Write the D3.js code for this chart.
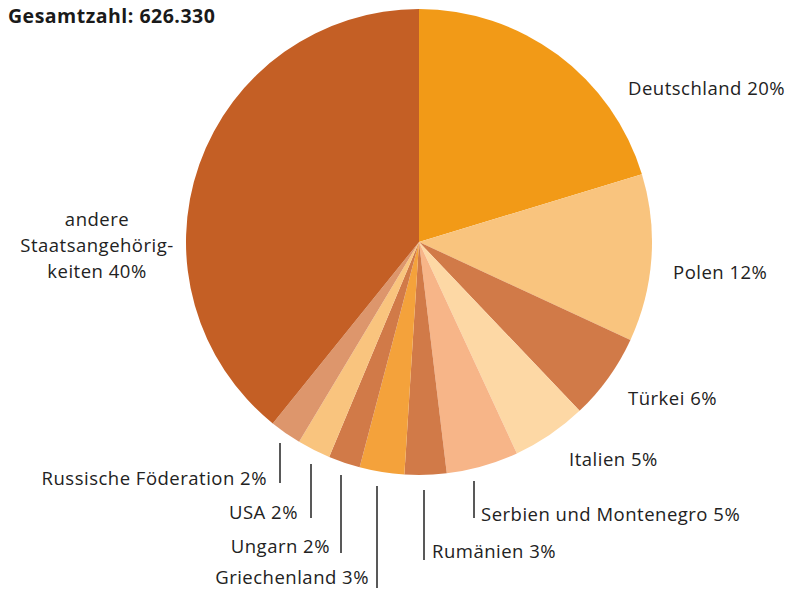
<!DOCTYPE html>
<html lang="de">
<head>
  <meta charset="UTF-8" />
  <title>Gesamtzahl: 626.330</title>
  <style>
    body { margin: 0; background: #ffffff; }
    svg { display: block; }
    .label { font-family: "Open Sans", "Noto Sans", sans-serif; font-size: 18.5px; letter-spacing: 0.5px; fill: #222222; }
    .title { font-family: "Open Sans", "Noto Sans", sans-serif; font-size: 19.5px; letter-spacing: 0.5px; font-weight: bold; fill: #1a1a1a; }
    .leader { stroke: #222222; stroke-width: 1.5px; }
  </style>
  <script src="https://d3js.org/d3.v7.min.js"></script>
</head>
<body>
  <svg id="canvas" width="790" height="593"></svg>
  <script>
    const categories = ["Deutschland", "Polen", "Türkei", "Italien", "Serbien und Montenegro",
      "Rumänien", "Griechenland", "Ungarn", "USA", "Russische Föderation", "andere Staatsangehörigkeiten"];
    // slice sizes in percent
    const shares = [20.3, 11.6, 6.0, 5.2, 5.0, 2.9, 3.1, 2.2, 2.3, 2.2, 39.2];
    // percentages as printed in the labels
    const shareLabels = ["20%", "12%", "6%", "5%", "5%", "3%", "3%", "2%", "2%", "2%", "40%"];
    const colors = ["#f29a17", "#f9c47e", "#d17a48", "#fdd8a5", "#f7b588",
      "#d17a48", "#f4a23b", "#d17a48", "#f9c47e", "#dd966c", "#c45f25"];
    const total = "626.330";

    // label layout: text position, anchor, optional vertical leader line
    const labelLayout = [
      { x: 628, y: 95, anchor: "start" },
      { x: 673, y: 279, anchor: "start" },
      { x: 628, y: 405, anchor: "start" },
      { x: 569, y: 466, anchor: "start" },
      { x: 481, y: 521, anchor: "start", line: [474, 481, 518] },
      { x: 432, y: 558, anchor: "start", line: [424, 490, 560] },
      { x: 369, y: 584, anchor: "end", line: [377, 486, 588] },
      { x: 330, y: 553, anchor: "end", line: [341, 475, 553] },
      { x: 298, y: 519, anchor: "end", line: [311, 464, 518] },
      { x: 267, y: 485, anchor: "end", line: [280, 443, 483] },
      { x: 97, y: 226, anchor: "middle", lines: ["andere", "Staatsangehörig-", "keiten"] }
    ];

    const svg = d3.select("#canvas");
    const cx = 419, cy = 242, radius = 233;

    svg.append("text").attr("class", "title").attr("x", 8).attr("y", 23)
      .text("Gesamtzahl: " + total);

    const pie = d3.pie().sort(null).value(d => d)(shares);
    const arc = d3.arc().innerRadius(0).outerRadius(radius);

    const g = svg.append("g").attr("transform", `translate(${cx},${cy})`);
    g.selectAll("path").data(pie).join("path")
      .attr("d", arc)
      .attr("fill", (d, i) => colors[i]);

    labelLayout.forEach((l, i) => {
      if (l.line) {
        svg.append("line").attr("class", "leader")
          .attr("x1", l.line[0]).attr("x2", l.line[0])
          .attr("y1", l.line[1]).attr("y2", l.line[2]);
      }
      const t = svg.append("text").attr("class", "label")
        .attr("x", l.x).attr("y", l.y).attr("text-anchor", l.anchor);
      if (l.lines) {
        const parts = l.lines.slice();
        parts[parts.length - 1] += " " + shareLabels[i];
        parts.forEach((p, j) => {
          t.append("tspan").attr("x", l.x).attr("dy", j === 0 ? 0 : 26).text(p);
        });
      } else {
        t.text(categories[i] + " " + shareLabels[i]);
      }
    });
  </script>
</body>
</html>
